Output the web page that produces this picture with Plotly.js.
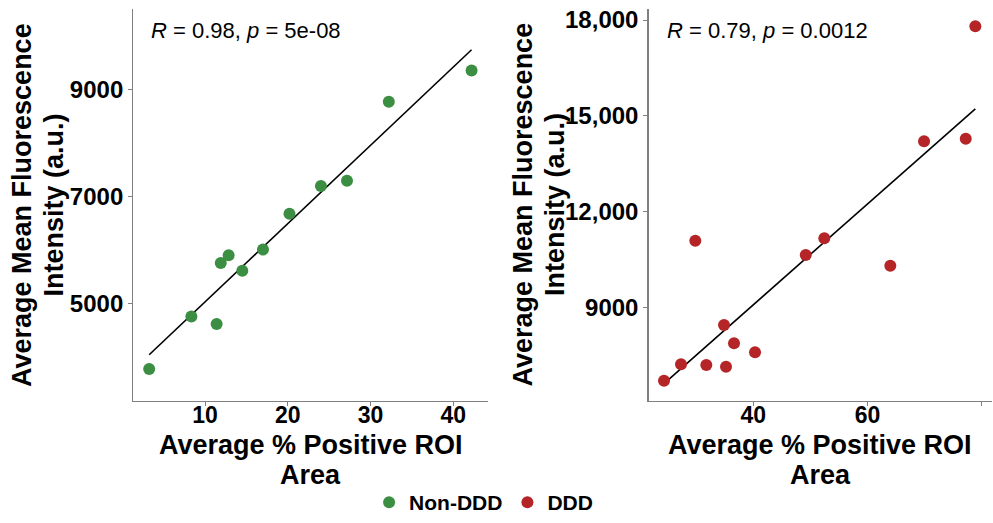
<!DOCTYPE html>
<html>
<head>
<meta charset="utf-8">
<script src="https://cdn.plot.ly/plotly-3.0.1.min.js"></script>
<style>html,body{margin:0;padding:0;background:#fff;}#chart{width:993px;height:523px;}</style>
</head>
<body>
<div id="chart"></div>
<script>
// Non-DDD group (left panel)
const nonDddArea = [3.25, 8.35, 11.4, 11.9, 12.85, 14.5, 17.0, 20.2, 24.0, 27.15, 32.2, 42.2];
const nonDddMFI  = [3772, 4751, 4615, 5755, 5898, 5607, 6005, 6674, 7193, 7292, 8769, 9353];
// DDD group (right panel)
const dddArea = [24.36, 27.34, 29.84, 31.77, 34.87, 35.22, 36.62, 40.3, 49.18, 52.43, 63.99, 69.9, 77.2, 78.88];
const dddMFI  = [6700, 7214, 11086, 7192, 8445, 7139, 7872, 7590, 10638, 11162, 10303, 14200, 14282, 17803];
// Labels
const groupNames = ["Non-DDD", "DDD"];
const statLabels = ["<i>R</i> = 0.98, <i>p</i> = 5e-08", "<i>R</i> = 0.79, <i>p</i> = 0.0012"];
const leftYTicks = [5000, 7000, 9000];
const leftXTicks = [10, 20, 30, 40];
const rightYTicks = [9000, 12000, 15000, 18000];
const rightYTickText = ["9000", "12,000", "15,000", "18,000"];
const rightXTicks = [40, 60, 80];
const xTitleLines = ["Average % Positive ROI", "Area"];
const yTitleLines = ["Average Mean Fluorescence", "Intensity (a.u.)"];

const green = "#3b8e42", red = "#b52528";

function fit(xs, ys) {
  const n = xs.length;
  const mx = xs.reduce((a, b) => a + b, 0) / n;
  const my = ys.reduce((a, b) => a + b, 0) / n;
  let sxy = 0, sxx = 0;
  for (let i = 0; i < n; i++) { sxy += (xs[i] - mx) * (ys[i] - my); sxx += (xs[i] - mx) ** 2; }
  const b = sxy / sxx, a = my - b * mx;
  const x0 = Math.min(...xs), x1 = Math.max(...xs);
  return { x: [x0, x1], y: [a + b * x0, a + b * x1] };
}
const f1 = fit(nonDddArea, nonDddMFI);
const f2 = fit(dddArea, dddMFI);

const traces = [
  { x: f1.x, y: f1.y, mode: "lines", line: { color: "#000", width: 1.6 }, showlegend: false, xaxis: "x", yaxis: "y", hoverinfo: "skip" },
  { x: f2.x, y: f2.y, mode: "lines", line: { color: "#000", width: 1.6 }, showlegend: false, xaxis: "x2", yaxis: "y2", hoverinfo: "skip" },
  { x: nonDddArea, y: nonDddMFI, mode: "markers", name: groupNames[0], marker: { color: green, size: 12 }, xaxis: "x", yaxis: "y" },
  { x: dddArea, y: dddMFI, mode: "markers", name: groupNames[1], marker: { color: red, size: 12 }, xaxis: "x2", yaxis: "y2" }
];

const FAM = "Liberation Sans, Arial, sans-serif";
const tickFont = { family: FAM, size: 24, color: "#000", weight: "bold" };
const xTickFont = { family: FAM, size: 23, color: "#000", weight: "bold" };
const titleFont = { family: FAM, size: 27, color: "#000", weight: "bold" };
const axBase = {
  showgrid: false, zeroline: false, showline: true, linecolor: "#808080", linewidth: 1.3,
  ticks: "outside", ticklen: 4, tickcolor: "#808080", tickwidth: 1, tickfont: tickFont, mirror: false
};

const W = 993, H = 523;
function pa(px, py, text, angle) {
  return { xref: "paper", yref: "paper", x: px / W, y: 1 - py / H, xanchor: "center", yanchor: "middle",
           showarrow: false, text: text, textangle: angle || 0, font: titleFont, borderpad: 0 };
}
const anns = [
  pa(310.7, 445, xTitleLines[0]), pa(310.7, 475, xTitleLines[1]),
  pa(820.2, 445, xTitleLines[0]), pa(820.2, 475, xTitleLines[1]),
  pa(22, 205, yTitleLines[0], -90), pa(53.5, 205, yTitleLines[1], -90),
  pa(522.5, 205, yTitleLines[0], -90), pa(555, 205, yTitleLines[1], -90),
  { xref: "x", yref: "paper", x: 3.2, y: 1 - 30 / H, xanchor: "left", yanchor: "middle", showarrow: false, text: statLabels[0],
    font: { family: FAM, size: 22, color: "#000" } },
  { xref: "x2", yref: "paper", x: 24.6, y: 1 - 30 / H, xanchor: "left", yanchor: "middle", showarrow: false, text: statLabels[1],
    font: { family: FAM, size: 22, color: "#000" } }
];

const layout = {
  width: W, height: H,
  margin: { l: 0, r: 0, t: 0, b: 0 },
  paper_bgcolor: "#fff", plot_bgcolor: "#fff",
  showlegend: true,
  legend: { orientation: "h", x: 0.487, xanchor: "center", y: 0.0, yanchor: "bottom", itemwidth: 30,
            font: { family: FAM, size: 21, color: "#000", weight: "bold" } },
  xaxis: Object.assign({}, axBase, { domain: [0.1343, 0.4914], range: [1.34, 44.18], tickvals: leftXTicks, anchor: "y", ticklabelstandoff: -11, tickfont: xTickFont }),
  yaxis: Object.assign({}, axBase, { domain: [0.2333, 0.9828], range: [3174, 10501], tickvals: leftYTicks, anchor: "x" }),
  xaxis2: Object.assign({}, axBase, { domain: [0.6531, 0.999], range: [21.65, 81.8], tickvals: rightXTicks, anchor: "y2", ticklabelstandoff: -11, tickfont: xTickFont }),
  yaxis2: Object.assign({}, axBase, { domain: [0.2333, 0.9828], range: [6065, 18345], tickvals: rightYTicks, ticktext: rightYTickText, anchor: "x2" }),
  annotations: anns
};

Plotly.newPlot("chart", traces, layout, { displayModeBar: false, staticPlot: true });
</script>
</body>
</html>
